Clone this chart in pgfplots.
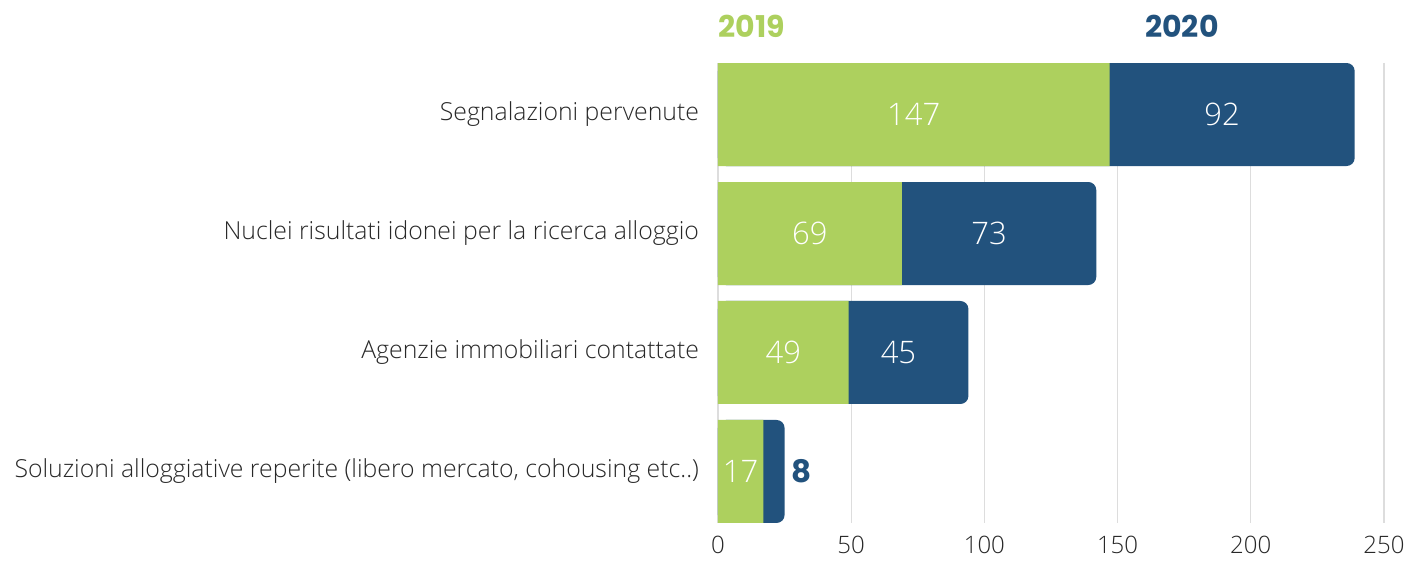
\documentclass[border=0pt]{standalone}
\usepackage{pgfplots}
\pgfplotsset{compat=1.18}
\usepackage{pgfplotstable}
\usepackage{fontspec}
\setmainfont{Open Sans}[UprightFont={* Light}]
\newfontfamily\titlefont{Poppins}[UprightFont={* Bold}]

\definecolor{verde}{RGB}{173,208,94}
\definecolor{blu}{RGB}{34,82,125}
\definecolor{griglia}{RGB}{221,221,221}
\definecolor{testo}{RGB}{40,40,40}

\pgfplotstableread{
y a b
0 147 92
1 69 73
2 49 45
3 17 8
}\dati

\begin{document}
\begin{tikzpicture}
\useasboundingbox (-359pt,-19pt) rectangle (345pt,261.5pt);
\begin{axis}[
  scale only axis,
  width=333pt, height=230pt,
  xmin=0, xmax=250,
  ymin=-0.433, ymax=3.433,
  y dir=reverse,
  axis line style={draw=none},
  major tick length=0pt,
  xtick={0,50,100,150,200,250},
  xmajorgrids,
  grid style={griglia, line width=0.6pt},
  ytick={0,1,2,3},
  yticklabels={Segnalazioni pervenute,
    Nuclei risultati idonei per la ricerca alloggio,
    Agenzie immobiliari contattate,
    {Soluzioni alloggiative reperite (libero mercato, cohousing etc..)}},
  yticklabel style={font=\fontsize{12.4}{14}\selectfont, text=testo, xshift=-6pt},
  xticklabel style={font=\fontsize{12}{14}\selectfont, text=testo, yshift=-3pt},
  /pgf/number format/assume math mode=true,
  bar width=51.5pt,
  clip=false,
]
% barra totale (2019+2020) con angoli arrotondati, poi il 2019 sopra
\addplot[xbar, bar shift=0pt, fill=blu, draw=none, rounded corners=4pt]
  table[x expr=\thisrow{a}+\thisrow{b}, y=y] {\dati};
\addplot[xbar, bar shift=0pt, fill=verde, draw=none]
  table[x=a, y=y] {\dati};

% etichette 2019
\addplot[draw=none, nodes near coords, point meta=explicit,
  every node near coord/.append style={anchor=center, text=white,
    font=\fontsize{15.5}{17}\selectfont}]
  table[x expr=\thisrow{a}/2, y=y, meta=a] {\dati};
% etichette 2020
\addplot[draw=none, nodes near coords, point meta=explicit,
  skip coords between index={3}{4},
  every node near coord/.append style={anchor=center, text=white, xshift=-5pt,
    font=\fontsize{15.5}{17}\selectfont}]
  table[x expr=\thisrow{a}+\thisrow{b}/2, y=y, meta=b] {\dati};
\addplot[draw=none, nodes near coords, point meta=explicit,
  skip coords between index={0}{3},
  every node near coord/.append style={anchor=west, text=blu, xshift=0pt,
    font=\titlefont\fontsize{15.5}{17}\selectfont}]
  table[x expr=\thisrow{a}+\thisrow{b}, y=y, meta=b] {\dati};

\node[anchor=base west, inner sep=0pt, text=verde, font=\titlefont\fontsize{15}{17}\selectfont]
  at (rel axis cs:0,1) [yshift=12.5pt] {2019};
\node[anchor=base west, inner sep=0pt, text=blu, font=\titlefont\fontsize{15}{17}\selectfont]
  at (rel axis cs:0.641,1) [yshift=12.5pt] {2020};
\end{axis}
\end{tikzpicture}
\end{document}
